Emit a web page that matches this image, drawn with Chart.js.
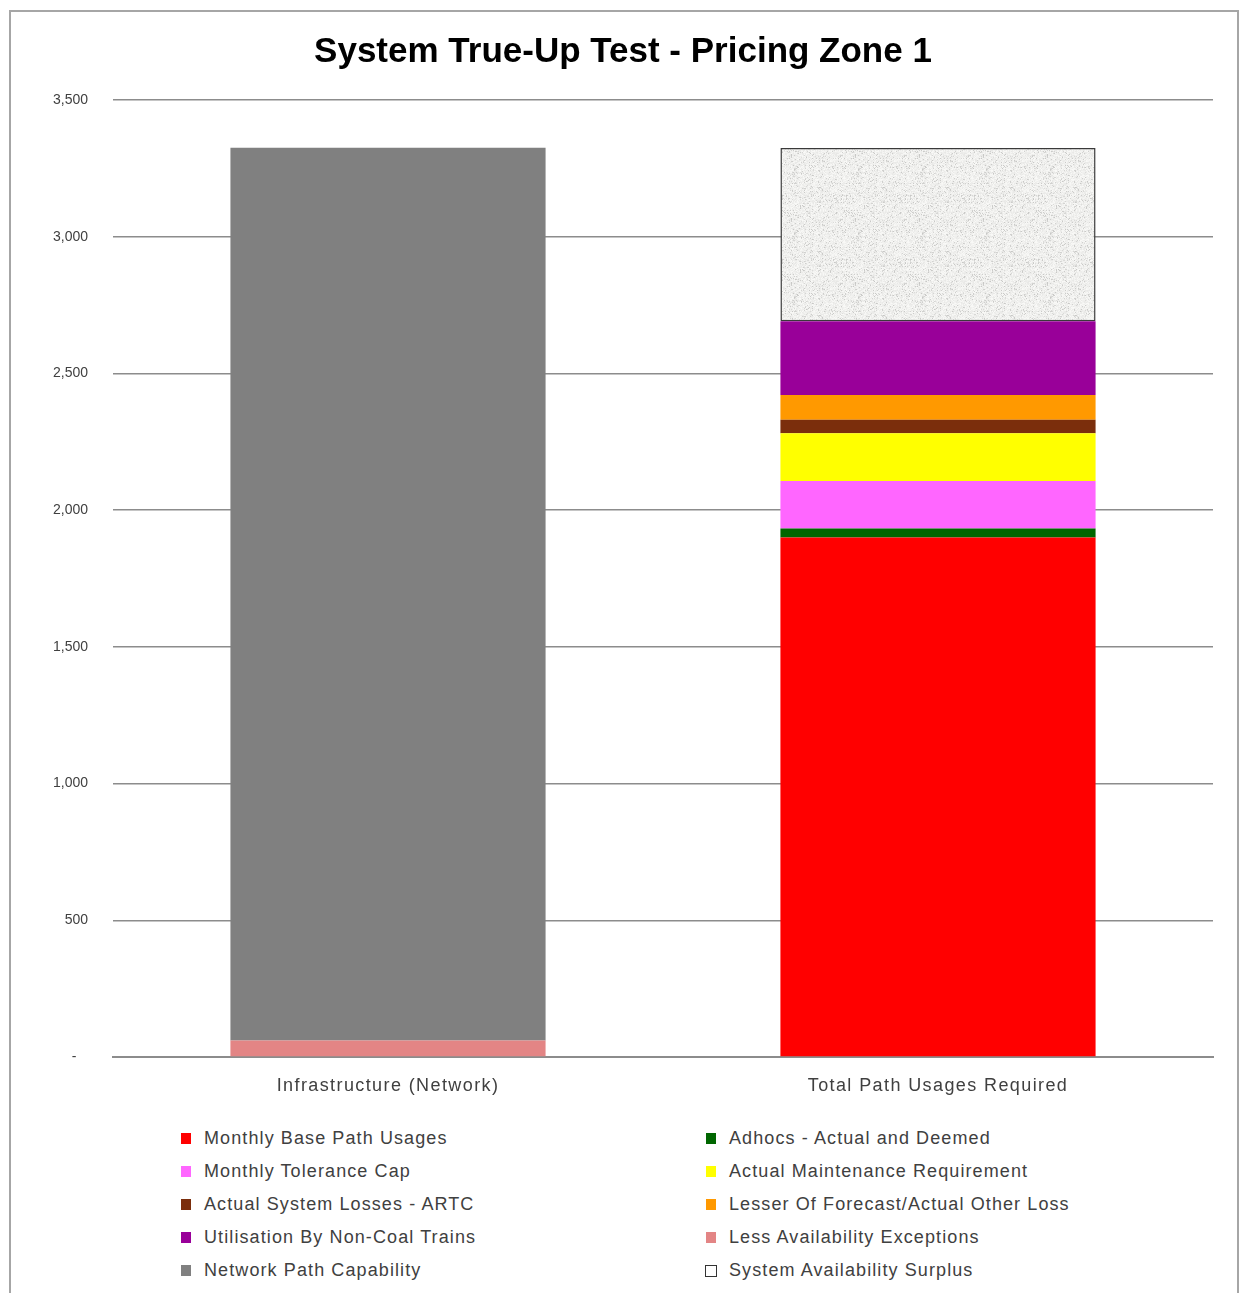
<!DOCTYPE html>
<html>
<head>
<meta charset="utf-8">
<script src="https://cdn.jsdelivr.net/npm/chart.js@4"></script>
<style>
    body { margin: 0; background: #ffffff; width: 1239px; height: 1293px; overflow: hidden; position: relative; }
    #frame { position: absolute; left: 9px; top: 10px; width: 1230px; height: 1300px; border: 2px solid #a6a6a6; box-sizing: border-box; }
    #chartBox { position: absolute; left: 0; top: 0; width: 1239px; height: 1110px; }
    #legend { position: absolute; left: 181px; top: 1122px; display: grid; grid-template-columns: 525px 525px; grid-auto-rows: 33px; align-items: center;
              font-family: "Liberation Sans", Arial, sans-serif; font-size: 18px; color: #404040; letter-spacing: 1.1px; }
    .item { display: flex; align-items: center; }
    .box { width: 10px; height: 11px; margin-right: 13px; box-sizing: border-box; }
</style>
</head>
<body>
<div id="frame"></div>
<div id="chartBox"><canvas id="trueUpCanvas" width="1239" height="1110"></canvas></div>
<div id="legend"></div>
<script>
const categories = ['Infrastructure (Network)', 'Total Path Usages Required'];

const seriesNames = [
    'Monthly Base Path Usages',
    'Adhocs - Actual and Deemed',
    'Monthly Tolerance Cap',
    'Actual Maintenance Requirement',
    'Actual System Losses - ARTC',
    'Lesser Of Forecast/Actual Other Loss',
    'Utilisation By Non-Coal Trains',
    'Less Availability Exceptions',
    'Network Path Capability',
    'System Availability Surplus'
];

// values per category: [Infrastructure, Total Path Usages]
const monthlyBase = [null, 1900];
const adhocs = [null, 33];
const toleranceCap = [null, 174];
const maintenance = [null, 174];
const lossesArtc = [null, 50];
const otherLoss = [null, 90];
const nonCoal = [null, 270];
const exceptions = [60, null];
const networkCapability = [3265, null];
const surplus = [null, 633];

const yTicks = [0, 500, 1000, 1500, 2000, 2500, 3000, 3500];

const seriesColors = ['#ff0000', '#006600', '#ff66ff', '#ffff00', '#7b2e0c', '#ff9900', '#990099', '#e38585', '#808080', null];

// mottled grey fill for the surplus block, like the textured excel fill
function makeSpeckle() {
    let c = document.createElement('canvas');
    c.width = 64; c.height = 64;
    let g = c.getContext('2d');
    let img = g.createImageData(64, 64);
    let s = 12345;
    for (let p = 0; p < 64 * 64; p++) {
        s = (s * 1103515245 + 12345) % 2147483648;
        let r = (s >> 8) % 100;
        let shade = r < 12 ? 200 + (r * 2) : 232 + (r % 18);
        img.data[p * 4] = shade;
        img.data[p * 4 + 1] = shade;
        img.data[p * 4 + 2] = shade - 2;
        img.data[p * 4 + 3] = 255;
    }
    g.putImageData(img, 0, 0);
    return g.createPattern(c, 'repeat');
}

// category labels in the reference are spaced out a bit, so draw them with some letter spacing
const spacedXLabels = {
    id: 'spacedXLabels',
    afterLayout(chart) {
        let scale = chart.scales.x;
        if (scale._spaced) return;
        let orig = scale.drawLabels;
        scale.drawLabels = function (area) {
            this.ctx.save();
            this.ctx.letterSpacing = '1.4px';
            orig.call(this, area);
            this.ctx.restore();
        };
        scale._spaced = true;
    }
};

const allSeries = [monthlyBase, adhocs, toleranceCap, maintenance, lossesArtc, otherLoss, nonCoal, exceptions, networkCapability, surplus];

let datasets = [];
for (let i = 0; i < allSeries.length; i++) {
    let isSurplus = i === allSeries.length - 1;
    datasets.push({
        label: seriesNames[i],
        data: allSeries[i],
        backgroundColor: isSurplus ? makeSpeckle() : seriesColors[i],
        borderColor: isSurplus ? '#3a3a3a' : seriesColors[i],
        borderWidth: isSurplus ? 1.5 : 0,
        borderSkipped: false,
        categoryPercentage: 1.0,
        barPercentage: 0.573
    });
}

let ctx = document.getElementById('trueUpCanvas').getContext('2d');
let trueUpChart = new Chart(ctx, {
    type: 'bar',
    data: { labels: categories, datasets: datasets },
    plugins: [spacedXLabels],
    options: {
        responsive: false,
        animation: false,
        layout: { padding: { top: 31, right: 26, left: 33, bottom: 0 } },
        scales: {
            x: {
                stacked: true,
                grid: { display: false, drawTicks: false },
                border: { display: true, color: '#8c8c8c', width: 2 },
                ticks: { color: '#404040', padding: 18, font: { family: '"Liberation Sans", Arial, sans-serif', size: 18 } },
                afterFit: function (scale) { scale.height = 53; }
            },
            y: {
                stacked: true,
                min: 0,
                max: 3500,
                afterBuildTicks: function (scale) { scale.ticks = yTicks.map(v => ({ value: v })); },
                grid: { color: '#8c8c8c', lineWidth: 1.5, drawTicks: false },
                border: { display: false },
                ticks: {
                    color: '#404040',
                    padding: 25,
                    font: { family: '"Liberation Sans", Arial, sans-serif', size: 14 },
                    callback: function (value) { return value === 0 ? '-   ' : value.toLocaleString('en-US'); }
                },
                afterFit: function (scale) { scale.width = 80; }
            }
        },
        plugins: {
            legend: { display: false },
            tooltip: { enabled: false },
            title: {
                display: true,
                text: 'System True-Up Test - Pricing Zone 1',
                color: '#000000',
                font: { family: '"Liberation Sans", Arial, sans-serif', size: 35, weight: 'bold' },
                padding: { top: 0, bottom: 27 }
            }
        }
    }
});

// two column legend, row by row like the excel one
let legendDiv = document.getElementById('legend');
trueUpChart.data.datasets.forEach(function (ds, i) {
    let item = document.createElement('div');
    item.className = 'item';
    let box = document.createElement('span');
    box.className = 'box';
    if (seriesColors[i]) {
        box.style.background = seriesColors[i];
    } else {
        box.style.background = '#ffffff';
        box.style.border = '1.5px solid #333333';
        box.style.width = '12px';
        box.style.height = '12px';
        box.style.marginRight = '12px';
        box.style.marginLeft = '-1px';
    }
    let txt = document.createElement('span');
    txt.textContent = ds.label;
    item.appendChild(box);
    item.appendChild(txt);
    legendDiv.appendChild(item);
});
</script>
</body>
</html>
